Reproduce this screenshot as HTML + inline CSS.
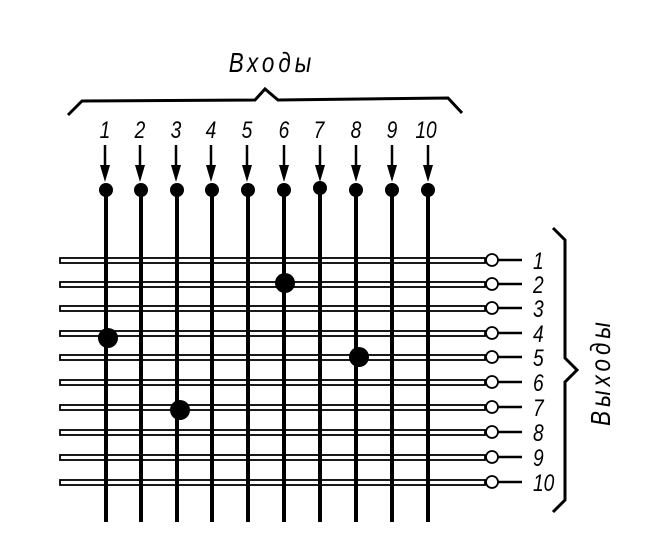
<!DOCTYPE html>
<html><head><meta charset="utf-8"><style>body{margin:0;background:#fff}svg{display:block}</style></head><body>
<svg width="651" height="551" viewBox="0 0 651 551" xmlns="http://www.w3.org/2000/svg" font-family="Liberation Sans, sans-serif" font-style="italic">
<rect width="651" height="551" fill="#fff"/>
<text transform="translate(272,72) scale(0.8,1)" font-size="28" text-anchor="middle" letter-spacing="5">Входы</text>
<polyline points="68,115 82,101 255,100 265,89 278,100 448,98 462,113" fill="none" stroke="#000" stroke-width="3"/>
<g font-size="24" text-anchor="middle">
<text transform="translate(105,138) scale(0.8,1)">1</text><text transform="translate(140,138) scale(0.8,1)">2</text><text transform="translate(176,138) scale(0.8,1)">3</text><text transform="translate(211,138) scale(0.8,1)">4</text><text transform="translate(247,138) scale(0.8,1)">5</text><text transform="translate(284,138) scale(0.8,1)">6</text><text transform="translate(319,138) scale(0.8,1)">7</text><text transform="translate(356,138) scale(0.8,1)">8</text><text transform="translate(392,138) scale(0.8,1)">9</text><text transform="translate(426,138) scale(0.8,1)">10</text>
</g>
<g stroke="#000" stroke-width="1.8" fill="#fff">
<rect x="60" y="258" width="425" height="5"/><rect x="60" y="282" width="425" height="5"/><rect x="60" y="306" width="425" height="5"/><rect x="60" y="331" width="425" height="5"/><rect x="60" y="355" width="425" height="5"/><rect x="60" y="380" width="425" height="5"/><rect x="60" y="405" width="425" height="5"/><rect x="60" y="430" width="425" height="5"/><rect x="60" y="455" width="425" height="5"/><rect x="60" y="480" width="425" height="5"/>
</g>
<g stroke="#000" stroke-width="2.5">
<line x1="498" y1="260" x2="522" y2="260"/><line x1="498" y1="284" x2="522" y2="284"/><line x1="498" y1="308" x2="522" y2="308"/><line x1="498" y1="333" x2="522" y2="333"/><line x1="498" y1="357" x2="522" y2="357"/><line x1="498" y1="382" x2="522" y2="382"/><line x1="498" y1="407" x2="522" y2="407"/><line x1="498" y1="432" x2="522" y2="432"/><line x1="498" y1="457" x2="522" y2="457"/><line x1="498" y1="482" x2="522" y2="482"/>
</g>
<g stroke="#000" stroke-width="1.8" fill="#fff">
<circle cx="492" cy="260" r="6"/><circle cx="492" cy="284" r="6"/><circle cx="492" cy="308" r="6"/><circle cx="492" cy="333" r="6"/><circle cx="492" cy="357" r="6"/><circle cx="492" cy="382" r="6"/><circle cx="492" cy="407" r="6"/><circle cx="492" cy="432" r="6"/><circle cx="492" cy="457" r="6"/><circle cx="492" cy="482" r="6"/>
</g>
<g font-size="24">
<text transform="translate(533,269) scale(0.8,1)">1</text><text transform="translate(533,293) scale(0.8,1)">2</text><text transform="translate(533,317) scale(0.8,1)">3</text><text transform="translate(533,342) scale(0.8,1)">4</text><text transform="translate(533,366) scale(0.8,1)">5</text><text transform="translate(533,391) scale(0.8,1)">6</text><text transform="translate(533,416) scale(0.8,1)">7</text><text transform="translate(533,441) scale(0.8,1)">8</text><text transform="translate(533,466) scale(0.8,1)">9</text><text transform="translate(533,491) scale(0.8,1)">10</text>
</g>
<g stroke="#000" stroke-width="4">
<line x1="106" y1="190" x2="106" y2="522"/><line x1="141" y1="190" x2="141" y2="522"/><line x1="177" y1="190" x2="177" y2="522"/><line x1="212" y1="190" x2="212" y2="522"/><line x1="248" y1="190" x2="248" y2="522"/><line x1="284" y1="190" x2="284" y2="522"/><line x1="320" y1="190" x2="320" y2="522"/><line x1="356" y1="190" x2="356" y2="522"/><line x1="392" y1="190" x2="392" y2="522"/><line x1="428" y1="190" x2="428" y2="522"/>
</g>
<g stroke="#000" stroke-width="2.5">
<line x1="105" y1="145" x2="105" y2="170"/><line x1="140" y1="145" x2="140" y2="170"/><line x1="176" y1="145" x2="176" y2="170"/><line x1="211" y1="145" x2="211" y2="170"/><line x1="247" y1="145" x2="247" y2="170"/><line x1="284" y1="145" x2="284" y2="170"/><line x1="320" y1="145" x2="320" y2="170"/><line x1="356" y1="145" x2="356" y2="170"/><line x1="392" y1="145" x2="392" y2="170"/><line x1="428" y1="145" x2="428" y2="170"/>
</g>
<g fill="#000">
<path d="M100,165 L110,165 L105,182Z"/><path d="M135,165 L145,165 L140,182Z"/><path d="M171,165 L181,165 L176,182Z"/><path d="M206,165 L216,165 L211,182Z"/><path d="M242,165 L252,165 L247,182Z"/><path d="M279,165 L289,165 L284,182Z"/><path d="M315,165 L325,165 L320,182Z"/><path d="M351,165 L361,165 L356,182Z"/><path d="M387,165 L397,165 L392,182Z"/><path d="M423,165 L433,165 L428,182Z"/>
<circle cx="106" cy="190" r="7"/><circle cx="141" cy="190" r="7"/><circle cx="177" cy="190" r="7"/><circle cx="212" cy="190" r="7"/><circle cx="248" cy="190" r="7"/><circle cx="284" cy="190" r="7"/><circle cx="320" cy="188" r="7"/><circle cx="356" cy="190" r="7"/><circle cx="392" cy="190" r="7"/><circle cx="428" cy="190" r="7"/>
<circle cx="108" cy="338" r="10"/><circle cx="285" cy="283" r="10"/><circle cx="180" cy="410" r="10"/><circle cx="359" cy="357" r="10"/>
</g>
<polyline points="553,228 565,240 565,358 577,370 565,382 565,500 553,512" fill="none" stroke="#000" stroke-width="3"/>
<text transform="translate(610,372) rotate(-90) scale(0.8,1)" font-size="28" text-anchor="middle" letter-spacing="5">Выходы</text>
</svg>
</body></html>
